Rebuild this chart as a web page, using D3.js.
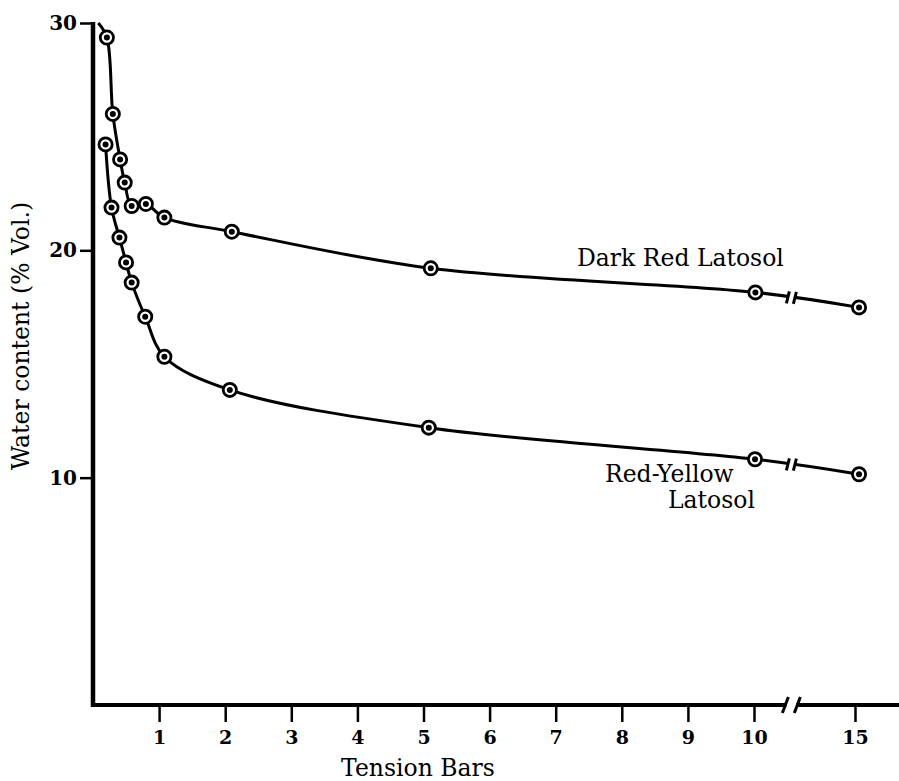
<!DOCTYPE html>
<html>
<head>
<meta charset="utf-8">
<script src="https://cdn.jsdelivr.net/npm/d3@7"></script>
<style>
  body { margin: 0; background: #fff; }
  svg { display: block; }
</style>
</head>
<body>
<div id="container"></div>
<script>
/* DATA */
const xTicks = [1, 2, 3, 4, 5, 6, 7, 8, 9, 10, 15];
const yTicks = [10, 20, 30];

// Dark Red Latosol
const drX = [0.21, 0.30, 0.41, 0.48, 0.585, 0.80, 1.08, 2.10, 5.11, 10.07, 15.2];
const drY = [29.36, 26.0, 24.0, 22.98, 21.95, 22.04, 21.44, 20.82, 19.21, 18.15, 17.49];
const drStart = [0.08, 30]; // curve runs up into the top of the axis

// Red-Yellow Latosol
const ryX = [0.19, 0.28, 0.40, 0.50, 0.585, 0.79, 1.08, 2.07, 5.08, 10.05, 15.2];
const ryY = [24.66, 21.88, 20.56, 19.47, 18.58, 17.08, 15.32, 13.86, 12.2, 10.81, 10.15];

const breakAt = 11.85; // where the x axis is broken between 10 and 15

/* CONSTANTS */
const width = 899, height = 781;
const serif = "'DejaVu Serif', 'Liberation Serif', serif";

const svg = d3.select("#container")
  .append("svg")
  .attr("width", width)
  .attr("height", height)
  .style("background-color", "white");

// x axis is linear up to 10, then compressed 10..15
const x = d3.scaleLinear().domain([0, 10, 15]).range([93, 754, 855]);
const y = d3.scaleLinear().domain([0, 30]).range([705, 23]);

// AXES
const xAxis = svg.append("g")
  .attr("transform", `translate(0,${y(0)})`)
  .call(d3.axisBottom(x).tickValues(xTicks).tickFormat(d3.format("d"))
    .tickSize(17).tickPadding(9).tickSizeOuter(0));
xAxis.select(".domain").remove();
xAxis.selectAll(".tick line").attr("stroke", "black").attr("stroke-width", 2.5);
xAxis.selectAll(".tick text")
  .style("font-family", serif).style("font-weight", "bold").style("font-size", "19px")
  .attr("fill", "black");

const yAxis = svg.append("g")
  .attr("transform", `translate(${x(0)},0)`)
  .call(d3.axisLeft(y).tickValues(yTicks).tickSize(13).tickPadding(3).tickSizeOuter(0));
yAxis.select(".domain").remove();
yAxis.selectAll(".tick line").attr("stroke", "black").attr("stroke-width", 2.5);
yAxis.selectAll(".tick text")
  .style("font-family", serif).style("font-weight", "bold").style("font-size", "20px")
  .attr("fill", "black");

// axis lines
svg.append("line")
  .attr("x1", x(0)).attr("x2", x(0))
  .attr("y1", y(30) - 1).attr("y2", y(0) + 2)
  .attr("stroke", "black").attr("stroke-width", 4.5);
svg.append("line")
  .attr("x1", x(0) - 2).attr("x2", width)
  .attr("y1", y(0)).attr("y2", y(0))
  .attr("stroke", "black").attr("stroke-width", 4);

// axis break  //
const bx = x(breakAt);
svg.append("rect")
  .attr("x", bx - 5).attr("y", y(0) - 4)
  .attr("width", 10).attr("height", 8)
  .attr("fill", "white");
[-6, 6].forEach(off => {
  svg.append("line")
    .attr("x1", bx + off - 3).attr("y1", y(0) + 8)
    .attr("x2", bx + off + 3).attr("y2", y(0) - 8)
    .attr("stroke", "black").attr("stroke-width", 3);
});

// CURVES
const line = d3.line()
  .x(d => x(d[0]))
  .y(d => y(d[1]))
  .curve(d3.curveCatmullRom.alpha(0.5));

const drPts = drX.map((v, i) => [v, drY[i]]);
const ryPts = ryX.map((v, i) => [v, ryY[i]]);

svg.append("path")
  .attr("d", line([drStart].concat(drPts)))
  .attr("fill", "none").attr("stroke", "black").attr("stroke-width", 3);

svg.append("path")
  .attr("d", line(ryPts))
  .attr("fill", "none").attr("stroke", "black").attr("stroke-width", 3);

// little breaks on each curve between 10 and 15
[drPts, ryPts].forEach(pts => {
  const a = pts[pts.length - 2], b = pts[pts.length - 1];
  const t = (x(breakAt) - x(a[0])) / (x(b[0]) - x(a[0]));
  const cy = y(a[1]) + t * (y(b[1]) - y(a[1]));
  const cx = x(breakAt);
  svg.append("rect")
    .attr("x", cx - 3).attr("y", cy - 4)
    .attr("width", 6).attr("height", 8)
    .attr("fill", "white");
  [-3.5, 3.5].forEach(off => {
    svg.append("line")
      .attr("x1", cx + off - 1.5).attr("y1", cy + off * 0.06 + 6)
      .attr("x2", cx + off + 1.5).attr("y2", cy + off * 0.06 - 6)
      .attr("stroke", "black").attr("stroke-width", 3);
  });
});

// MARKERS
const allPts = drPts.concat(ryPts);
svg.selectAll("circle.marker")
  .data(allPts)
  .join("circle")
  .attr("class", "marker")
  .attr("cx", d => x(d[0]))
  .attr("cy", d => y(d[1]))
  .attr("r", 6.6)
  .attr("fill", "white")
  .attr("stroke", "black")
  .attr("stroke-width", 2.8);

svg.selectAll("circle.dot")
  .data(allPts)
  .join("circle")
  .attr("class", "dot")
  .attr("cx", d => x(d[0]))
  .attr("cy", d => y(d[1]))
  .attr("r", 3)
  .attr("fill", "black");

// LABELS
const label = (txt, lx, ly, anchor) => svg.append("text")
  .attr("x", lx).attr("y", ly)
  .attr("text-anchor", anchor || "start")
  .style("font-family", serif)
  .style("font-size", "23.5px")
  .attr("fill", "black")
  .text(txt);

label("Dark Red Latosol", 577, 266);
label("Red-Yellow", 605, 482);
label("Latosol", 668, 508);

// axis titles
label("Tension Bars", 418, 776, "middle");

svg.append("text")
  .attr("transform", `translate(29,336) rotate(-90)`)
  .attr("text-anchor", "middle")
  .style("font-family", serif)
  .style("font-size", "23.5px")
  .attr("fill", "black")
  .text("Water content (% Vol.)");
</script>
</body>
</html>
